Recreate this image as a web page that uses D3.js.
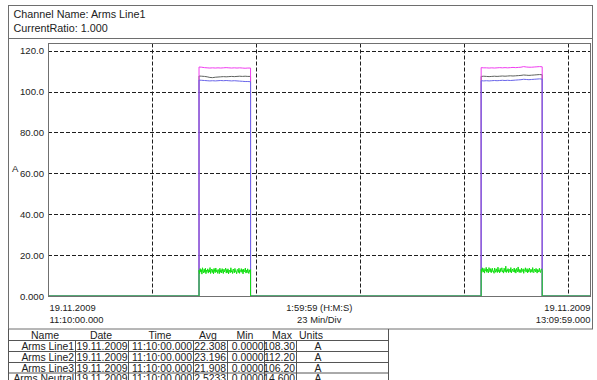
<!DOCTYPE html>
<html>
<head>
<meta charset="utf-8">
<script src="https://cdn.jsdelivr.net/npm/d3@7"></script>
<style>
  html, body { margin: 0; padding: 0; background: #fff; }
  svg { display: block; font-family: Arial, "Liberation Sans", sans-serif; }
</style>
</head>
<body>
<svg id="chart" width="597" height="380"></svg>
<script>
// ---- recording window and scales ----
const recordDate = "19.11.2009";
const startTime = "11:10:00";
const endTime = "13:09:59";
const divisionMinutes = 23;
const yTickValues = [0, 20, 40, 60, 80, 100, 120];
const yTickLabels = ["0.000", "20.00", "40.00", "60.00", "80.00", "100.0", "120.0"];
const yMax = 123.5;

// ---- load periods (switch-on / switch-off) ----
const pulseOn = ["11:43:24", "12:45:48"];
const pulseOff = ["11:54:48", "12:59:18"];

// ---- RMS current during each load period, sampled evenly from on to off ----
const line1Pulse1 = [107.6, 107.5, 107.4, 107.2, 106.9, 106.8, 107.0, 107.1, 107.2, 107.3, 107.2, 107.3, 107.4, 107.3, 107.4, 107.5, 107.4, 107.5, 107.4, 107.4];
const line1Pulse2 = [107.4, 107.5, 107.4, 107.3, 107.4, 107.5, 107.4, 107.5, 107.6, 107.5, 107.6, 107.7, 107.6, 107.7, 107.8, 107.9, 108.1, 108.0, 107.9, 108.0, 108.1, 108.2, 108.3, 108.2];
const line2Pulse1 = [112.0, 111.9, 111.7, 111.6, 111.5, 111.6, 111.5, 111.6, 111.5, 111.6, 111.7, 111.6, 111.5, 111.6, 111.5, 111.6, 111.5, 111.4, 111.5, 111.5];
const line2Pulse2 = [111.7, 111.6, 111.6, 111.5, 111.6, 111.5, 111.6, 111.7, 111.6, 111.7, 111.6, 111.7, 111.8, 111.7, 111.8, 111.9, 112.2, 112.0, 111.9, 111.9, 112.0, 112.1, 112.2, 112.1];
const line3Pulse1 = [105.6, 105.5, 105.4, 105.3, 105.2, 105.3, 105.2, 105.3, 105.4, 105.3, 105.4, 105.3, 105.2, 105.3, 105.2, 105.1, 105.0, 104.9, 104.9, 104.8];
const line3Pulse2 = [105.3, 105.2, 105.3, 105.2, 105.3, 105.4, 105.3, 105.4, 105.5, 105.4, 105.5, 105.4, 105.5, 105.6, 105.7, 105.8, 106.0, 105.9, 105.8, 105.9, 106.0, 106.1, 106.2, 106.1];
const neutralPulse1 = [
  12.6, 11.0, 13.4, 11.8, 12.9, 10.7, 13.8, 12.2, 11.3, 13.1,
  11.6, 13.6, 10.9, 12.7, 12.0, 13.3, 11.2, 12.8, 11.7, 13.9,
  11.0, 12.4, 13.2, 11.5, 12.9, 10.8, 13.5, 12.1, 11.4, 13.7,
  11.9, 12.6, 11.1, 13.0, 12.3, 10.9, 13.6, 11.6, 12.8, 11.3,
  13.4, 12.0, 11.0, 13.1, 11.8, 12.5, 13.7, 11.2, 12.9, 11.5,
  13.3, 10.8, 12.7, 12.2, 11.4, 13.8, 11.7, 12.4, 11.0, 13.2,
  12.6, 11.3, 13.5, 11.9, 12.1, 10.9, 13.0, 12.8, 11.5, 13.6,
  11.1, 12.5, 12.0, 13.4, 11.6, 12.9, 10.8, 13.1, 11.8, 12.3,
  13.7, 11.2, 12.6, 11.4, 13.3, 12.1, 11.0, 12.8, 11.7, 12.9
];
const neutralPulse2 = [
  13.0, 11.5, 13.8, 12.1, 11.7, 13.5, 11.2, 12.9, 12.4, 14.0,
  11.6, 13.2, 12.0, 11.3, 13.9, 12.5, 11.8, 13.4, 11.4, 12.8,
  13.6, 11.9, 12.3, 11.1, 13.7, 12.6, 11.6, 13.3, 12.2, 11.5,
  14.1, 12.0, 12.7, 11.3, 13.5, 11.9, 12.9, 13.8, 11.7, 12.4,
  11.2, 13.6, 12.3, 11.8, 14.6, 11.5, 12.8, 12.1, 13.4, 11.4,
  13.1, 12.6, 11.7, 13.9, 11.3, 12.5, 13.2, 11.9, 12.0, 13.7,
  11.6, 12.9, 11.2, 13.5, 12.4, 11.8, 14.2, 12.2, 11.5, 13.0,
  12.7, 11.4, 13.6, 11.9, 12.3, 13.3, 11.1, 12.8, 12.5, 13.8,
  11.7, 12.1, 13.4, 11.3, 12.9, 11.8, 13.7, 12.6, 11.5, 13.1,
  12.2, 11.6, 13.9, 12.0, 11.4, 13.2, 12.7, 11.8, 13.5, 12.3,
  11.2, 13.0, 12.4, 11.7, 13.6, 12.1, 11.5, 12.8, 13.3, 12.4
];

// ---- series (drawing order: last is on top) ----
const seriesNames = ["Arms Line1", "Arms Line2", "Arms Line3", "Arms Neutral"];
const seriesColors = ["#5f635f", "#f03cf0", "#6a66ea", "#10e010"];
const seriesPulses = [
  [line1Pulse1, line1Pulse2],
  [line2Pulse1, line2Pulse2],
  [line3Pulse1, line3Pulse2],
  [neutralPulse1, neutralPulse2]
];

// ---- summary table ----
const tableHeader = ["Name", "Date", "Time", "Avg", "Min", "Max", "Units"];
const tableAvg = ["22.308", "23.196", "21.908", "2.5233"];
const tableMin = ["0.0000", "0.0000", "0.0000", "0.0000"];
const tableMax = ["108.30", "112.20", "106.20", "14.600"];
const tableUnits = ["A", "A", "A", "A"];

// ---------------------------------------------------------------
const parse = d3.timeParse("%d.%m.%Y %H:%M:%S");
const at = t => parse(recordDate + " " + t);

const svg = d3.select("#chart");
const plot = { left: 48, right: 590.5, top: 43.5, bottom: 296 };

const x = d3.scaleTime().domain([at(startTime), at(endTime)]).range([plot.left, plot.right]);
const y = d3.scaleLinear().domain([0, yMax]).range([plot.bottom, plot.top]);

// outer frame and header
svg.append("rect").attr("x", 8.5).attr("y", 5.5).attr("width", 584).attr("height", 323.5)
  .attr("fill", "none").attr("stroke", "#6e6e6e").attr("stroke-width", 1);
svg.append("line").attr("x1", 8.5).attr("x2", 592.5).attr("y1", 38.5).attr("y2", 38.5)
  .attr("stroke", "#6e6e6e");
svg.append("text").attr("x", 13.5).attr("y", 17.5).attr("font-size", 10.8).attr("fill", "#222")
  .text("Channel Name: Arms Line1");
svg.append("text").attr("x", 13.5).attr("y", 31.5).attr("font-size", 10.8).attr("fill", "#222")
  .text("CurrentRatio: 1.000");

// grid
const grid = svg.append("g").attr("stroke", "#1e1e1e").attr("stroke-width", 1)
  .attr("stroke-dasharray", "4,2");
grid.selectAll("line.h").data(yTickValues.filter(v => v > 0)).join("line")
  .attr("class", "h")
  .attr("x1", plot.left).attr("x2", plot.right)
  .attr("y1", d => Math.round(y(d)) + 0.5).attr("y2", d => Math.round(y(d)) + 0.5);
const vTimes = d3.range(1, 6).map(k => d3.timeMinute.offset(at(startTime), k * divisionMinutes));
grid.selectAll("line.v").data(vTimes).join("line")
  .attr("class", "v")
  .attr("x1", d => Math.round(x(d)) + 0.5).attr("x2", d => Math.round(x(d)) + 0.5)
  .attr("y1", plot.top).attr("y2", plot.bottom);

// series
const line = d3.line().x(d => x(d.t)).y(d => y(d.v));
seriesPulses.forEach((pulses, si) => {
  const pts = [{ t: at(startTime), v: 0 }];
  pulses.forEach((vals, pi) => {
    const t0 = at(pulseOn[pi]), t1 = at(pulseOff[pi]);
    const step = (t1 - t0) / (vals.length - 1);
    pts.push({ t: t0, v: 0 });
    vals.forEach((v, i) => pts.push({ t: new Date(+t0 + i * step), v }));
    pts.push({ t: t1, v: 0 });
  });
  pts.push({ t: at(endTime), v: 0 });
  svg.append("path").datum(pts)
    .attr("fill", "none").attr("stroke", seriesColors[si]).attr("stroke-width", 1)
    .attr("d", line);
});

// plot frame
svg.append("rect").attr("x", plot.left + 0.5).attr("y", plot.top)
  .attr("width", plot.right - plot.left - 0.5).attr("height", plot.bottom - plot.top + 0.5)
  .attr("fill", "none").attr("stroke", "#707070");

// y axis labels
const yAxis = d3.axisLeft(y).tickValues(yTickValues)
  .tickFormat((d, i) => yTickLabels[i]).tickSize(0).tickPadding(4);
const gy = svg.append("g").attr("transform", `translate(${plot.left},0)`).call(yAxis);
gy.select(".domain").remove();
gy.selectAll("text").attr("font-size", 9.6).attr("fill", "#222")
  .attr("font-family", "Arial, 'Liberation Sans', sans-serif");
svg.append("text").attr("x", 12).attr("y", 171.5).attr("font-size", 9.6).attr("fill", "#222").text("A");

// x axis labels
const xl = svg.append("g").attr("font-size", 9.4).attr("fill", "#222");
xl.append("text").attr("x", x(at(startTime)) + 1.5).attr("y", 311).text(recordDate);
xl.append("text").attr("x", x(at(startTime)) + 1.5).attr("y", 322.5).text(startTime + ".000");
xl.append("text").attr("x", x(at(endTime))).attr("y", 311).attr("text-anchor", "end").text(recordDate);
xl.append("text").attr("x", x(at(endTime))).attr("y", 322.5).attr("text-anchor", "end").text(endTime + ".000");
const mid = (plot.left + plot.right) / 2;
xl.append("text").attr("x", mid).attr("y", 311).attr("text-anchor", "middle").text("1:59:59 (H:M:S)");
xl.append("text").attr("x", mid).attr("y", 322.5).attr("text-anchor", "middle").text(divisionMinutes + " Min/Div");

// summary table
const colRight = [75, 128, 193, 227, 264, 296, 388];
const rowTop = [329, 340.5, 351.5, 362.5, 373];
const headX = [45, 101, 160, 208, 245, 282, 311];
const tbl = svg.append("g");
rowTop.slice(1).forEach(ry => {
  tbl.append("line").attr("x1", 8.5).attr("x2", 388.5).attr("y1", ry).attr("y2", ry).attr("stroke", "#555");
});
tbl.append("line").attr("x1", 8.5).attr("x2", 8.5).attr("y1", 329).attr("y2", 380).attr("stroke", "#555");
tbl.append("line").attr("x1", 388.5).attr("x2", 388.5).attr("y1", 329).attr("y2", 380).attr("stroke", "#555");
colRight.slice(0, 6).forEach(cx => {
  tbl.append("line").attr("x1", cx + 0.5).attr("x2", cx + 0.5).attr("y1", rowTop[1]).attr("y2", 380).attr("stroke", "#555");
});
tableHeader.forEach((h, i) => {
  tbl.append("text").attr("x", headX[i]).attr("y", 338.5).attr("text-anchor", "middle")
    .attr("font-size", 10.5).attr("fill", "#222").text(h);
});
seriesNames.forEach((name, r) => {
  const by = rowTop[r + 1] + 9.3;
  const cells = [
    [name, colRight[0] - 1, "end"],
    [recordDate, (colRight[0] + colRight[1]) / 2 + 0.5, "middle"],
    [startTime + ".000", colRight[2] - 1, "end"],
    [tableAvg[r], colRight[3] - 1, "end"],
    [tableMin[r], colRight[4] - 0.5, "end"],
    [tableMax[r], colRight[5] - 1, "end"],
    [tableUnits[r], 318, "middle"]
  ];
  cells.forEach(([txt, cx, anchor]) => {
    tbl.append("text").attr("x", cx).attr("y", by).attr("text-anchor", anchor)
      .attr("font-size", 10.4).attr("fill", "#222").text(txt);
  });
});
</script>
</body>
</html>
